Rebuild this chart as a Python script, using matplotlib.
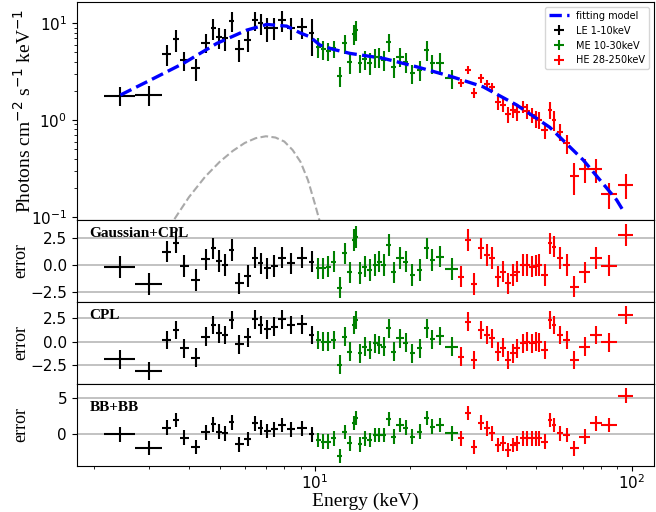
import matplotlib
matplotlib.use('Agg')
import matplotlib.pyplot as plt

plt.rcParams['mathtext.fontset'] = 'dejavusans'
SERIF = 'Liberation Serif'

# LE 1-10 keV
le_e = [2.43, 2.99, 3.40, 3.64, 3.87, 4.20, 4.52, 4.78, 4.98, 5.20, 5.46, 5.77, 6.13, 6.47, 6.73, 7.07, 7.44, 7.88, 8.40, 9.13, 9.75]
le_xerr = [0.28, 0.29, 0.11, 0.08, 0.12, 0.15, 0.14, 0.09, 0.12, 0.13, 0.09, 0.18, 0.16, 0.16, 0.12, 0.17, 0.18, 0.22, 0.24, 0.33, 0.17]
le_flux = [1.78, 1.81, 4.79, 6.79, 4.15, 3.41, 6.26, 8.82, 7.12, 6.95, 10.6, 5.36, 6.68, 10.7, 9.93, 8.82, 8.95, 10.7, 8.95, 9.03, 7.83]
le_ferr = [0.39, 0.43, 1.15, 1.77, 0.91, 0.89, 1.38, 2.1, 1.7, 1.8, 2.5, 1.4, 1.7, 2.4, 2.4, 2.5, 2.3, 2.6, 2.3, 2.2, 3.3]
le_res_gc = [-0.21, -1.76, 1.23, 2.07, -0.09, -1.39, 0.52, 1.54, 0.37, 0.0, 1.39, -1.70, -1.02, 0.68, 0.15, -0.31, -0.09, 0.68, 0.15, 0.68, 0.31]
le_res_cpl = [-1.84, -3.09, 0.21, 1.28, -0.67, -1.67, 0.56, 1.81, 0.93, 0.74, 2.34, -0.25, 0.50, 2.41, 1.81, 1.35, 1.63, 2.41, 1.81, 1.88, 0.74]
le_res_bb = [-0.05, -1.90, 0.88, 1.94, -0.51, -1.76, 0.23, 1.34, 0.32, 0.09, 1.62, -1.44, -0.69, 1.48, 0.88, 0.42, 0.65, 1.25, 0.65, 0.79, -0.05]

# ME 10-30 keV
me_e = [10.24, 10.62, 11.01, 11.44, 11.99, 12.43, 12.85, 13.23, 13.47, 13.87, 14.38, 14.91, 15.47, 15.95, 16.51, 17.12, 17.75, 18.54, 19.37, 20.28, 21.44, 22.51, 23.44, 24.80, 26.99]
me_xerr = [0.19, 0.19, 0.20, 0.21, 0.22, 0.22, 0.23, 0.16, 0.16, 0.25, 0.26, 0.27, 0.28, 0.29, 0.30, 0.31, 0.32, 0.50, 0.35, 0.37, 0.39, 0.41, 0.42, 0.73, 1.30]
me_flux = [5.70, 5.36, 5.14, 5.49, 2.86, 6.18, 3.94, 7.70, 8.47, 3.84, 4.22, 3.90, 4.43, 4.50, 4.15, 6.41, 3.55, 4.50, 3.99, 3.03, 3.28, 5.27, 3.84, 3.90, 2.69]
me_ferr = [1.31, 1.23, 1.10, 1.10, 0.66, 1.42, 0.98, 1.77, 1.95, 0.80, 0.97, 0.97, 1.02, 1.03, 0.95, 1.40, 0.82, 1.00, 0.92, 0.70, 0.75, 1.20, 0.88, 0.97, 0.60]
me_res_gc = [-0.31, -0.31, -0.15, 0.31, -2.10, 1.08, -0.68, 2.30, 2.60, -0.77, -0.15, -0.46, 0.0, 0.31, 0.0, 1.85, -0.68, 0.62, 0.31, -0.93, -0.46, 1.54, 0.46, 0.77, -0.37]
me_res_cpl = [0.21, 0.04, 0.04, 0.21, -2.40, 0.56, -1.03, 1.81, 2.34, -1.20, -0.50, -0.85, -0.14, -0.32, -0.50, 1.46, -1.03, 0.39, -0.07, -1.20, -0.67, 1.46, 0.29, 0.64, -0.50]
me_res_bb = [-0.83, -1.06, -1.06, -0.60, -3.00, 0.30, -1.30, 1.55, 2.18, -1.44, -0.60, -0.83, -0.14, -0.14, -0.14, 2.08, -0.37, 1.25, 0.88, -0.37, 0.32, 2.18, 1.02, 1.25, 0.09]

# HE 28-250 keV
he_e = [28.88, 30.32, 31.80, 33.32, 34.80, 36.25, 37.70, 39.26, 40.72, 42.04, 43.47, 45.21, 46.74, 48.26, 49.68, 51.0, 53.16, 55.25, 56.88, 59.29, 62.23, 65.77, 71.1, 76.99, 84.8, 95.5]
he_xerr = [0.64, 0.67, 0.70, 0.73, 0.77, 0.80, 0.83, 0.86, 0.90, 0.92, 0.96, 0.99, 1.03, 1.06, 1.09, 1.12, 1.40, 0.80, 0.83, 1.30, 1.50, 2.20, 2.90, 3.30, 5.10, 5.20]
he_flux = [2.42, 3.28, 1.91, 2.69, 2.35, 2.17, 1.54, 1.43, 1.15, 1.27, 1.22, 1.37, 1.25, 1.13, 1.04, 1.0, 0.789, 1.27, 1.0, 0.758, 0.575, 0.265, 0.31, 0.31, 0.173, 0.214]
he_ferr = [0.24, 0.30, 0.21, 0.27, 0.22, 0.23, 0.27, 0.21, 0.22, 0.23, 0.24, 0.20, 0.22, 0.20, 0.21, 0.20, 0.15, 0.25, 0.23, 0.15, 0.13, 0.095, 0.088, 0.084, 0.053, 0.061]
he_res_gc = [-1.08, 2.31, -1.76, 1.54, 0.93, 0.62, -1.08, -0.62, -1.70, -0.93, -0.62, 0.0, 0.0, -0.15, -0.06, 0.0, -0.93, 2.0, 1.7, 0.62, 0.0, -2.0, -0.68, 0.62, -0.06, 2.78]
he_res_cpl = [-1.56, 2.16, -1.91, 1.28, 0.74, 0.39, -1.03, -0.60, -1.91, -1.20, -0.67, -0.14, 0.04, -0.14, 0.04, -0.04, -0.85, 2.34, 1.81, 0.74, 0.21, -1.91, -0.50, 0.74, -0.04, 2.87]
he_res_bb = [-0.60, 2.87, -1.76, 1.57, 0.79, 0.09, -1.53, -1.30, -2.22, -1.53, -1.30, -0.60, -0.60, -0.60, -0.60, -0.60, -1.06, 1.94, 1.25, 0.09, -0.14, -1.99, -0.37, 1.48, 1.25, 5.28]

# fitted model and gaussian component
model_e = [2.43, 3.02, 3.84, 4.90, 6.09, 7.04, 8.14, 8.97, 9.64, 10.37, 11.42, 12.9, 16.43, 20.94, 26.66, 33.96, 43.29, 55.1, 70.22, 89.5, 95.0]
model_f = [1.81, 2.58, 3.84, 6.18, 8.47, 9.69, 9.31, 7.94, 7.22, 5.93, 5.36, 4.87, 4.33, 3.54, 2.84, 2.20, 1.43, 0.84, 0.387, 0.150, 0.109]
gauss_e = [3.6, 4.0, 4.5, 5.0, 5.5, 6.0, 6.5, 7.0, 7.5, 8.0, 8.5, 9.0, 9.5, 10.0, 10.4]
gauss_f = [0.095, 0.16, 0.26, 0.37, 0.48, 0.58, 0.65, 0.68, 0.66, 0.60, 0.49, 0.37, 0.24, 0.135, 0.085]

bands = [
    (le_e, le_xerr, le_flux, le_ferr, [le_res_gc, le_res_cpl, le_res_bb], 'black', 'LE 1-10keV'),
    (me_e, me_xerr, me_flux, me_ferr, [me_res_gc, me_res_cpl, me_res_bb], 'green', 'ME 10-30keV'),
    (he_e, he_xerr, he_flux, he_ferr, [he_res_gc, he_res_cpl, he_res_bb], 'red', 'HE 28-250keV'),
]
res_names = ['Gaussian+CPL', 'CPL', 'BB+BB']
res_ylims = [(-3.43, 4.17), (-4.47, 4.26), (-4.4, 6.9)]
res_text_y = [0.84, 0.84, 0.71]

fig, axes = plt.subplots(4, 1, figsize=(6.56, 5.12), dpi=100, sharex=True,
                         gridspec_kw={'height_ratios': [218, 82, 82, 82], 'hspace': 0})
fig.subplots_adjust(left=0.117, right=0.997, top=0.996, bottom=0.09)

ax = axes[0]
ax.plot(gauss_e, gauss_f, color='darkgray', linestyle='--', lw=1.5)
ax.plot(model_e, model_f, color='blue', linestyle='--', lw=2.4, zorder=5, label='fitting model')
for e, xe, f, fe, res, c, lab in bands:
    ax.errorbar(e, f, xerr=xe, yerr=fe, fmt='none', ecolor=c, elinewidth=1.5, label=lab)
ax.set_xscale('log')
ax.set_yscale('log')
ax.set_xlim(1.77, 117.5)
ax.set_ylim(0.093, 16.5)
ax.set_ylabel('Photons cm$^{-2}$ s$^{-1}$ keV$^{-1}$', family=SERIF, fontsize=14)
ax.yaxis.set_label_coords(-0.073, 0.5)
ax.legend(loc='upper right', fontsize=7)

for i, rax in enumerate(axes[1:]):
    for e, xe, f, fe, res, c, lab in bands:
        rax.errorbar(e, res[i], xerr=xe, yerr=1, fmt='none', ecolor=c, elinewidth=1.5)
    rax.set_ylim(*res_ylims[i])
    rax.grid(axis='y', color='#b8b8b8', lw=1.2)
    rax.set_axisbelow(True)
    rax.set_ylabel('error', family=SERIF, fontsize=13)
    rax.yaxis.set_label_coords(-0.083, 0.5)
    rax.text(0.022, res_text_y[i], res_names[i], transform=rax.transAxes,
             family=SERIF, fontweight='bold', fontsize=11, va='center')

for a in axes:
    a.tick_params(labelsize=11)
for a in axes[:-1]:
    a.tick_params(axis='x', which='both', bottom=False, labelbottom=False)

axes[-1].tick_params(axis='x', pad=2)
axes[-1].set_xlabel('Energy (keV)', family=SERIF, fontsize=14, labelpad=0)

plt.savefig('out.png', dpi=100)
